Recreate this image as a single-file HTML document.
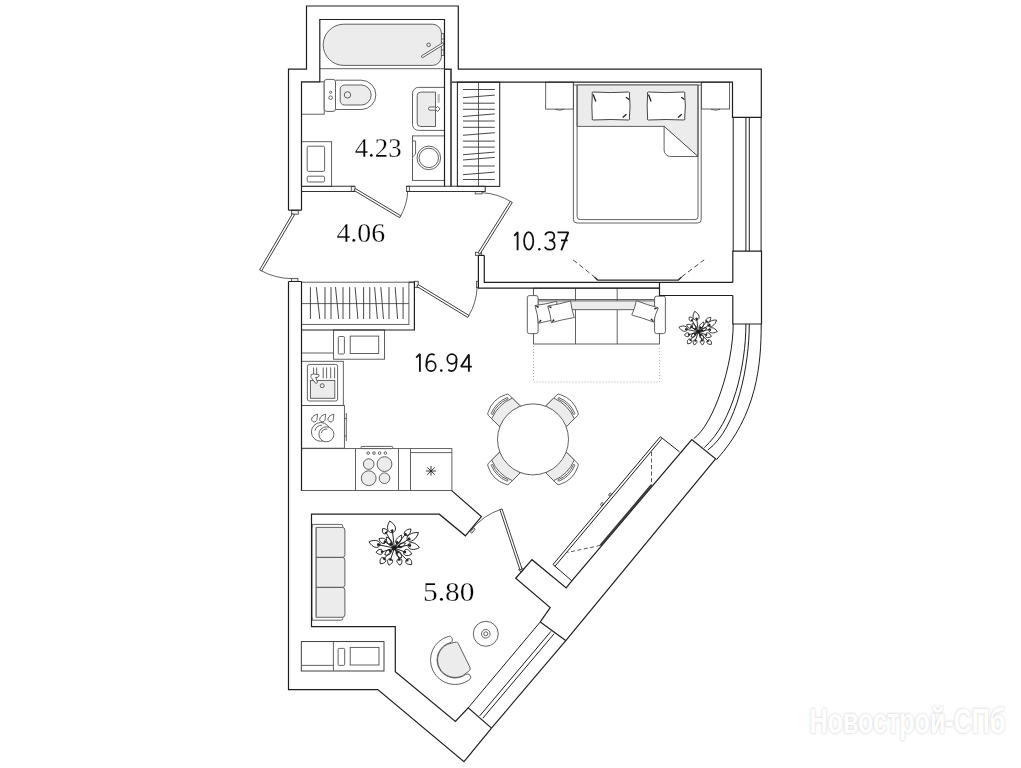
<!DOCTYPE html><html><head><meta charset="utf-8"><style>html,body{margin:0;padding:0;background:#fff;width:1021px;height:768px;overflow:hidden}svg{display:block}</style></head><body>
<svg width="1021" height="768" viewBox="0 0 1021 768">
<defs>
</defs>
<rect width="1021" height="768" fill="#fff"/>
<g stroke="#505050" stroke-width="0.9" fill="none">
<path fill="#ececec" d="M343.8,24.2 H432.4 A9,9 0 0 1 441.4,33.2 V56.4 A9,9 0 0 1 432.4,65.4 H343.8 A20.6,20.6 0 0 1 343.8,24.2 Z"/>
<path d="M319.8,68.7 H444.5"/>
<path d="M441.4,33.5 H443.9 V55.5 H441.4 M441.4,39 H443.9 M441.4,44 H443.9 M441.4,50 H443.9"/>
<path d="M421.3,56 L443,42.6 L444,44.4 L422.3,57.8 Z" fill="#fff"/>
<circle cx="428.6" cy="44.8" r="1.8"/>
<rect x="301.5" y="81.8" width="22.7" height="32.4"/>
<rect x="324.2" y="79.4" width="11.3" height="32" rx="2.5" fill="#fff"/>
<path d="M335.5,80.2 H361.2 A14.65,14.65 0 0 1 361.2,109.5 H335.5"/>
<path fill="#ececec" d="M344.5,85 H361.2 A10,10 0 0 1 361.2,105 H344.5 A4.3,4.3 0 0 1 340.2,100.7 V89.3 A4.3,4.3 0 0 1 344.5,85 Z"/>
<circle cx="347.5" cy="94.9" r="3.2"/>
<circle cx="330.6" cy="92.3" r="1.1"/><circle cx="330.6" cy="97.7" r="1.8"/>
<rect x="301.4" y="141.7" width="30.2" height="44.7"/>
<rect x="307.2" y="146.2" width="17.4" height="25.2" rx="1.5"/>
<rect x="307.2" y="176.2" width="17.4" height="5.8" rx="1.5"/>
<path d="M444.5,87.4 H418.5 A6,6 0 0 0 412.5,93.4 V124.4 A6,6 0 0 0 418.5,130.4 H444.5"/>
<path fill="#ececec" d="M435.5,92.1 H420.7 A3.5,3.5 0 0 0 417.2,95.6 V123 A3.5,3.5 0 0 0 420.7,126.5 H435.5 Z"/>
<rect x="437.5" y="94" width="2.3" height="8.7" fill="#bbb" stroke="none"/>
<rect x="428.5" y="107" width="8" height="3.2" rx="1.6" fill="#fff"/><path fill="#fff" d="M437.6,106.3 L440,108.9 L437.6,111.5 L435,108.9 Z" stroke-linejoin="round"/>
<rect x="412.5" y="135.9" width="32" height="44.5"/>
<circle cx="428.8" cy="157.9" r="11.8"/><circle cx="428.8" cy="157.9" r="9.7"/>
<path d="M413,141 H415.6 V154 L413,156.5"/>
<rect x="457.4" y="82.2" width="42.3" height="104.2" stroke="#2a2a2a" stroke-width="1.1"/>
<path d="M478.5,82.2 V186.4"/>
<path stroke="#333" d="M463,89.5 H494.8 M463,97.7 L494.8,95.10000000000001 M463,103.2 H494.8 M463,109.3 H494.8 M463,116.5 L494.8,113.9 M463,121 H494.8 M463,127.3 H494.8 M463,135.3 L494.8,132.7 M463,141.1 H494.8 M463,147.1 H494.8 M463,154.70000000000002 L494.8,152.1 M463,160.0 L494.8,157.39999999999998 M463,166 H494.8 M463,174.70000000000002 L494.8,172.1 M463,179.5 H494.8 "/>
<rect x="351.3" y="186.3" width="3.7" height="5.2" fill="#eee"/>
<rect x="406.5" y="186.3" width="3.1" height="5.2" fill="#eee"/>
<rect x="475.2" y="191.5" width="6.9" height="2.4" fill="#eee"/>
<rect x="291.4" y="210.2" width="6.9" height="4" fill="#eee"/>
<rect x="291.6" y="278.4" width="6.3" height="3.1" fill="#eee"/>
<rect x="475.5" y="252.3" width="6.1" height="3.1" fill="#eee"/>
<rect x="476.5" y="281.3" width="1.9" height="6.3" fill="#eee"/>
<rect x="414.4" y="281.3" width="3.8" height="6.3" fill="#eee"/>
<rect x="519.5" y="567.6" width="3.5" height="3.8" fill="#ddd" transform="rotate(40 521 569.5)"/>
<path fill="#ddd" d="M470.2,531.8 L473.5,527.8 L475.2,529.2 L471.9,533.2Z"/>
<ellipse cx="601.8" cy="504" rx="1.6" ry="1" transform="rotate(-50 601.8 504)"/><ellipse cx="610" cy="494.5" rx="1.6" ry="1" transform="rotate(-50 610 494.5)"/>
<path fill="#fff" stroke="#2a2a2a" d="M292.51,213.62 L259.61,269.82 L261.59,270.98 L294.49,214.78 Z"/>
<path d="M260.60,270.40 A65.12,65.12 0 0 0 291.60,278.60"/>
<path fill="#fff" stroke="#2a2a2a" d="M354.11,190.49 L399.61,217.69 L400.79,215.71 L355.29,188.51 Z"/>
<path d="M400.20,216.70 A53.01,53.01 0 0 0 407.70,190.80"/>
<path fill="#fff" stroke="#2a2a2a" d="M479.97,254.11 L512.27,202.51 L510.33,201.29 L478.03,252.89 Z"/>
<path d="M511.30,201.90 A60.88,60.88 0 0 0 482.10,192.70"/>
<path fill="#fff" stroke="#2a2a2a" d="M416.90,286.48 L467.70,317.38 L468.90,315.42 L418.10,284.52 Z"/>
<path d="M468.30,316.40 A59.46,59.46 0 0 0 477.10,287.60"/>
<path fill="#fff" stroke="#2a2a2a" d="M522.09,569.14 L502.09,508.94 L499.91,509.66 L519.91,569.86 Z"/>
<path d="M501.00,509.30 A63.44,63.44 0 0 0 471.10,530.30"/>
<rect x="545.7" y="82.2" width="27.7" height="26.9"/><path d="M555,109.3 Q559.5,111 564,109.3"/>
<rect x="701.6" y="82.2" width="28" height="26.8"/><path d="M711,109.3 Q715.5,111 720,109.3"/>
<path d="M573.4,82.2 V219.5 A3.5,3.5 0 0 0 576.9,223 H697.7 A3.5,3.5 0 0 0 701.2,219.5 V82.2"/>
<path d="M573.4,85 H701.2"/>
<path fill="#ececec" d="M577.1,85 H698 V156.5 L664.1,126.4 H577.1 Z"/>
<path d="M577.1,85 V216.6 A3,3 0 0 0 580.1,219.6 H695 A3,3 0 0 0 698,216.6 V85"/>
<path fill="#fff" d="M664.1,126.4 V150 A6.5,6.5 0 0 0 670.6,156.5 H698 Z"/>
<path fill="#fff" stroke="#333" d="M593,92 Q610.85,93.2 628.7,92 Q630.3000000000001,92.3 629.4000000000001,94 Q630.7,106.0 629.4000000000001,118 Q630.3000000000001,119.7 628.7,120 Q610.85,119 593,120 Q591.4,119.7 592.3,118 Q591.4,106.0 592.3,94 Q591.4,92.3 593,92 Z"/>
<path stroke="#222" stroke-width="1.3" d="M593.2,94.6 L595.8,101.6 M625.9000000000001,97.2 L629.2,99.5 M622.7,117.6 L626.5,114.2"/>
<path fill="#fff" stroke="#333" d="M648.3,92 Q666.15,93.2 684.0,92 Q685.6,92.3 684.7,94 Q686.0,106.0 684.7,118 Q685.6,119.7 684.0,120 Q666.15,119 648.3,120 Q646.6999999999999,119.7 647.5999999999999,118 Q646.6999999999999,106.0 647.5999999999999,94 Q646.6999999999999,92.3 648.3,92 Z"/>
<path stroke="#222" stroke-width="1.3" d="M648.5,94.6 L651.0999999999999,101.6 M681.2,97.2 L684.5,99.5 M678.0,117.6 L681.8,114.2"/>
<path stroke="#2a2a2a" stroke-width="1.4" d="M594.5,276.9 L597.6,280.1 H678.3 L681.6,276.9"/>
<path stroke="#333" stroke-dasharray="5,3" d="M573,259.8 L594.5,276.9 M681.6,276.9 L704.2,259.8"/>
<rect x="533.5" y="288.2" width="126" height="55.8" fill="#fff"/>
<path d="M575.5,288.2 V344 M617.2,288.2 V344 M533.5,299.5 H659.5"/>
<rect x="537.9" y="300.9" width="116.9" height="8.8" fill="#ececec"/>
<rect x="527.3" y="295.6" width="10.8" height="38" rx="2" fill="#fff"/>
<rect x="654.6" y="296.2" width="10.8" height="37.4" rx="2" fill="#fff"/>
<path fill="#fff" d="M534.98,305.56 Q545.92,304.17 556.58,301.37 Q557.43,310.37 560.02,319.04 Q549.08,320.43 538.42,323.23 Q537.57,314.23 534.98,305.56 Z"/>
<path fill="#222" stroke="none" d="M534.98,305.56 L538.98,306.58 L538.03,308.34Z"/>
<path fill="#222" stroke="none" d="M538.42,323.23 L540.21,319.52 L541.74,320.80Z"/>
<path fill="#fff" d="M547.69,306.04 Q559.31,304.17 570.63,300.96 Q571.55,309.46 574.31,317.56 Q562.69,319.43 551.37,322.64 Q550.45,314.14 547.69,306.04 Z"/>
<path fill="#222" stroke="none" d="M547.69,306.04 L551.76,306.71 L550.96,308.55Z"/>
<path fill="#222" stroke="none" d="M551.37,322.64 L553.28,318.99 L554.77,320.32Z"/>
<path fill="#fff" d="M636.38,300.71 Q647.13,304.84 658.25,307.82 Q655.06,314.67 653.62,322.09 Q642.87,317.96 631.75,314.98 Q634.94,308.13 636.38,300.71 Z"/>
<path fill="#222" stroke="none" d="M658.25,307.82 L654.65,309.83 L654.13,307.90Z"/>
<path fill="#222" stroke="none" d="M653.62,322.09 L650.33,319.60 L651.89,318.35Z"/>
<path stroke="#999" stroke-width="0.8" stroke-dasharray="1,2" d="M533.5,346 V382 H659.6 V346"/>
<path fill="#fff" d="M499.34,426.39 L488.52,415.57 Q486.97,414.01 488.17,412.11 Q492.48,398.88 505.71,394.57 Q507.61,393.37 509.17,394.92 L519.99,405.74 Z"/>
<path fill="#ececec" d="M499.34,426.39 L491.70,418.75 Q497.93,404.33 512.35,398.10 L519.99,405.74 Z"/>
<path fill="#fff" d="M492.62,414.30 Q497.01,403.41 507.90,399.02 Q508.53,397.96 507.05,397.61 Q495.88,402.28 491.21,413.45 Q491.56,414.93 492.62,414.30 Z"/>
<path fill="#fff" d="M546.01,405.74 L556.83,394.92 Q558.39,393.37 560.29,394.57 Q573.52,398.88 577.83,412.11 Q579.03,414.01 577.48,415.57 L566.66,426.39 Z"/>
<path fill="#ececec" d="M546.01,405.74 L553.65,398.10 Q568.07,404.33 574.30,418.75 L566.66,426.39 Z"/>
<path fill="#fff" d="M558.10,399.02 Q568.99,403.41 573.38,414.30 Q574.44,414.93 574.79,413.45 Q570.12,402.28 558.95,397.61 Q557.47,397.96 558.10,399.02 Z"/>
<path fill="#fff" d="M566.66,452.41 L577.48,463.23 Q579.03,464.79 577.83,466.69 Q573.52,479.92 560.29,484.23 Q558.39,485.43 556.83,483.88 L546.01,473.06 Z"/>
<path fill="#ececec" d="M566.66,452.41 L574.30,460.05 Q568.07,474.47 553.65,480.70 L546.01,473.06 Z"/>
<path fill="#fff" d="M573.38,464.50 Q568.99,475.39 558.10,479.78 Q557.47,480.84 558.95,481.19 Q570.12,476.52 574.79,465.35 Q574.44,463.87 573.38,464.50 Z"/>
<path fill="#fff" d="M519.99,473.06 L509.17,483.88 Q507.61,485.43 505.71,484.23 Q492.48,479.92 488.17,466.69 Q486.97,464.79 488.52,463.23 L499.34,452.41 Z"/>
<path fill="#ececec" d="M519.99,473.06 L512.35,480.70 Q497.93,474.47 491.70,460.05 L499.34,452.41 Z"/>
<path fill="#fff" d="M507.90,479.78 Q497.01,475.39 492.62,464.50 Q491.56,463.87 491.21,465.35 Q495.88,476.52 507.05,481.19 Q508.53,480.84 507.90,479.78 Z"/>
<circle cx="533" cy="439.4" r="35.5" fill="#fff"/>
<rect x="301.5" y="282.2" width="107.4" height="42.2"/>
<path d="M301.5,303.6 H408.9"/>
<path stroke="#333" d="M310.4,287.1 L310.4,319 M316.3,287.1 L319.8,319 M325,287.1 L325,319 M331,287.1 L331,319 M335.5,287.1 L338.7,319 M343,287.1 L343,319 M349.7,287.1 L349.7,319 M355.1,287.1 L357.9,319 M363.6,287.1 L363.6,319 M369.8,287.1 L369.8,319 M374.6,287.1 L377.4,319 M380.8,287.1 L383.5,319 M389,287.1 L389,319 M395.2,287.1 L397.6,319 M403.1,287.1 L403.1,319 "/>
<rect x="333.5" y="330" width="51" height="29.2"/>
<rect x="338.3" y="336.5" width="6.1" height="17.5" rx="1"/>
<rect x="350.2" y="336.1" width="28.5" height="17.4"/>
<path d="M301.5,353 H333.5"/>
<rect x="301.5" y="361.3" width="41.8" height="44.2"/>
<rect x="307.4" y="364.4" width="30.2" height="36.6" rx="2"/>
<rect x="310.4" y="380.4" width="24.4" height="17.9" fill="#ececec"/>
<path d="M313.6,367.4 V378.4 M316.7,367.4 V378.4 M323.2,367.4 V378.4 M326.6,367.4 V378.4 M330.7,367.4 V378.4 M334.6,367.4 V378.4"/>
<circle cx="322.2" cy="385.7" r="2"/>
<path fill="#fff" d="M310.8,376.5 Q310.5,373.8 313.5,374 L318.8,374.6 Q319.9,376 318,377.2 L315.6,377.5 L317.5,382 Q317,384.2 315.3,383 L311.2,377.5 Z"/>
<rect x="301.5" y="405.5" width="42.9" height="42.7"/>
<path d="M346.3,413 V441 M344.4,418.5 H346.3 M344.4,436 H346.3"/>
<path d="M317.6,414.2 C317.3,416.6 317.1,418 317.0,419.2 A2.7,2.7 0 1 1 311.9,418 C312.6,416.4 314.6,414.9 317.6,414.2 Z"/>
<path d="M325.7,414.2 C325.4,416.6 325.2,418 325.1,419.2 A2.7,2.7 0 1 1 320.0,418 C320.7,416.4 322.7,414.9 325.7,414.2 Z"/>
<path d="M333.9,414.2 C333.6,416.6 333.4,418 333.3,419.2 A2.7,2.7 0 1 1 328.2,418 C328.9,416.4 330.9,414.9 333.9,414.2 Z"/>
<circle cx="320.8" cy="431.9" r="9.4"/><circle cx="326.4" cy="434.3" r="7.5" fill="#fff"/>
<path d="M315,430.6 A6.8,6.8 0 0 1 322.1,425.2 M321.4,433 A5.4,5.4 0 0 1 327.3,429.1"/>
<rect x="301.5" y="448.6" width="150.4" height="41.9"/>
<path d="M355.5,448.6 V490.5 M398.5,448.6 V490.5 M410.5,448.6 V490.5 M410.5,452.6 H451.9"/>
<rect x="361" y="446.4" width="31.8" height="2.2" rx="1" fill="#fff"/>
<circle cx="368.2" cy="453.1" r="1.3"/>
<circle cx="374" cy="453.1" r="1.3"/>
<circle cx="379.6" cy="453.1" r="1.3"/>
<circle cx="385.4" cy="453.1" r="1.3"/>
<g fill="#ececec"><circle cx="368.7" cy="464.1" r="5.3"/><circle cx="384.5" cy="464.1" r="7.4"/><circle cx="368.7" cy="478.2" r="7.4"/><circle cx="384.5" cy="478.2" r="5.3"/></g>
<path stroke="#222" d="M425.9,471 H436.1 M431,465.9 V475.6 M427.2,467.4 L434.8,474.6 M434.8,467.4 L427.2,474.6"/>
<path fill="#fff" d="M312,527.4 V524.4 H341 Q342.8,524.4 342.8,526.2 V527.4 M312,617.2 V620.2 H341 Q342.8,620.2 342.8,618.4 V617.2"/>
<path d="M312,524.4 V620.2 M316.2,527.4 V617.2"/>
<path fill="#ececec" d="M316.2,527.4 H342.3 Q344.9,527.4 344.9,530.0 V554.8 Q344.9,557.4 342.3,557.4 H316.2 Z"/>
<path fill="#ececec" d="M316.2,557.4 H342.3 Q344.9,557.4 344.9,560.0 V584.8 Q344.9,587.4 342.3,587.4 H316.2 Z"/>
<path fill="#ececec" d="M316.2,587.4 H342.3 Q344.9,587.4 344.9,590.0 V614.7 Q344.9,617.3 342.3,617.3 H316.2 Z"/>
<circle cx="485.8" cy="633.8" r="12.5"/><circle cx="485.8" cy="633.8" r="4.3"/><circle cx="485.8" cy="633.8" r="2"/>
<path fill="#ececec" d="M454.13,642.37 Q457.00,640.96 458.41,643.83 L469.89,667.16 Q471.30,670.03 468.43,671.45 L462.73,675.70 A17.5,17.5 0 0 1 447.27,644.30 Z"/>
<path fill="#fff" d="M449.98,642.71 A18.0,18.0 0 1 0 465.63,674.53 A3.25,3.25 0 0 1 469.47,679.77 A24.5,24.5 0 1 1 448.16,636.47 A3.25,3.25 0 0 1 449.98,642.71 Z"/>
<rect x="301.3" y="641.6" width="82.7" height="29.4" stroke="#2a2a2a"/>
<path d="M333.4,641.6 V671 M301.3,665.4 H333.4"/>
<rect x="338.1" y="648.4" width="6.6" height="17" rx="1"/>
<rect x="350.2" y="647.4" width="28.8" height="17.6"/>
</g>
<g transform="translate(394.4,548)"><g stroke="#1a1a1a" stroke-width="0.95" fill="none" stroke-linejoin="round"><path d="M-1.80,-15.40 C3.15,-17.26 1.55,-23.58 -4.70,-26.90 C-8.63,-21.02 -7.04,-14.69 -1.80,-15.40Z"/><path fill="#1a1a1a" d="M-1.80,-15.40 L-1.37,-18.20 L-3.50,-17.66Z"/><path d="M0,0 L-1.80,-15.40"/><path d="M-7.90,-14.70 C-5.52,-17.11 -7.67,-19.64 -11.80,-19.30 C-12.81,-15.28 -10.67,-12.75 -7.90,-14.70Z"/><path fill="#1a1a1a" d="M-7.90,-14.70 L-7.92,-16.42 L-9.60,-15.00Z"/><path d="M0,0 L-7.90,-14.70"/><path d="M-8.60,-5.70 C-7.36,-8.86 -11.10,-10.84 -15.40,-9.30 C-14.26,-4.88 -10.52,-2.90 -8.60,-5.70Z"/><path fill="#1a1a1a" d="M-8.60,-5.70 L-9.58,-7.46 L-10.61,-5.52Z"/><path d="M0,0 L-8.60,-5.70"/><path d="M-14.30,-2.90 C-13.61,-7.38 -19.71,-9.14 -25.40,-6.10 C-22.21,-0.50 -16.10,1.26 -14.30,-2.90Z"/><path fill="#1a1a1a" d="M-14.30,-2.90 L-16.44,-4.66 L-17.05,-2.55Z"/><path d="M0,0 L-14.30,-2.90"/><path d="M-11.50,3.60 C-12.19,0.28 -15.93,0.66 -18.30,4.30 C-15.23,7.38 -11.49,6.99 -11.50,3.60Z"/><path fill="#1a1a1a" d="M-11.50,3.60 L-13.11,2.66 L-12.88,4.85Z"/><path d="M0,0 L-11.50,3.60"/><path d="M-9.70,10.00 C-12.93,8.06 -15.29,11.25 -14.00,15.80 C-9.27,15.71 -6.90,12.52 -9.70,10.00Z"/><path fill="#1a1a1a" d="M-9.70,10.00 L-11.53,10.62 L-9.76,11.93Z"/><path d="M0,0 L-9.70,10.00"/><path d="M-3.60,10.70 C-6.94,10.12 -7.93,13.70 -5.40,17.20 C-1.43,15.50 -0.44,11.93 -3.60,10.70Z"/><path fill="#1a1a1a" d="M-3.60,10.70 L-5.06,11.84 L-2.94,12.42Z"/><path d="M0,0 L-3.60,10.70"/><path d="M4.70,10.70 C1.41,11.54 1.96,15.11 5.70,17.20 C8.64,14.09 8.09,10.51 4.70,10.70Z"/><path fill="#1a1a1a" d="M4.70,10.70 L3.83,12.30 L6.01,11.96Z"/><path d="M0,0 L4.70,10.70"/><path d="M12.20,11.50 C9.80,14.40 12.55,17.15 17.20,16.50 C17.85,11.85 15.10,9.10 12.20,11.50Z"/><path fill="#1a1a1a" d="M12.20,11.50 L12.52,13.38 L14.08,11.82Z"/><path d="M0,0 L12.20,11.50"/><path d="M9.30,3.60 C8.45,7.66 12.80,9.03 17.20,6.10 C15.28,1.17 10.94,-0.21 9.30,3.60Z"/><path fill="#1a1a1a" d="M9.30,3.60 L10.71,5.20 L11.37,3.10Z"/><path d="M0,0 L9.30,3.60"/><path d="M13.60,-2.90 C13.21,1.62 19.48,3.00 25.00,-0.40 C21.40,-5.80 15.13,-7.17 13.60,-2.90Z"/><path fill="#1a1a1a" d="M13.60,-2.90 L15.87,-1.28 L16.34,-3.42Z"/><path d="M0,0 L13.60,-2.90"/><path d="M12.90,-7.90 C15.96,-4.54 22.12,-8.66 24.10,-15.40 C17.12,-16.14 10.96,-12.01 12.90,-7.90Z"/><path fill="#1a1a1a" d="M12.90,-7.90 L15.98,-8.64 L14.75,-10.46Z"/><path d="M0,0 L12.90,-7.90"/><path d="M10.40,-12.90 C13.09,-10.82 16.45,-14.17 16.50,-19.00 C11.67,-18.95 8.32,-15.59 10.40,-12.90Z"/><path fill="#1a1a1a" d="M10.40,-12.90 L12.52,-13.46 L10.96,-15.02Z"/><path d="M0,0 L10.40,-12.90"/><path d="M2.10,-4.30 C4.94,-3.20 7.74,-7.93 7.20,-12.90 C2.58,-10.99 -0.23,-6.26 2.10,-4.30Z"/><path fill="#1a1a1a" d="M2.10,-4.30 L4.17,-5.63 L2.28,-6.75Z"/><path d="M0,0 L2.10,-4.30"/><path d="M-3.00,-3.00 C-0.71,-4.99 -3.46,-9.39 -8.00,-11.00 C-8.54,-6.21 -5.79,-1.81 -3.00,-3.00Z"/><path fill="#1a1a1a" d="M-3.00,-3.00 L-3.17,-5.34 L-5.03,-4.18Z"/><path d="M0,0 L-3.00,-3.00"/><path d="M-3.50,2.50 C-5.60,0.32 -8.90,2.80 -9.50,7.00 C-5.30,7.60 -2.00,5.12 -3.50,2.50Z"/><path fill="#1a1a1a" d="M-3.50,2.50 L-5.48,2.61 L-4.16,4.37Z"/><path d="M0,0 L-3.50,2.50"/><path d="M2.50,3.50 C0.26,5.53 2.73,9.11 7.00,10.00 C7.67,5.69 5.19,2.12 2.50,3.50Z"/><path fill="#1a1a1a" d="M2.50,3.50 L2.59,5.56 L4.39,4.30Z"/><path d="M0,0 L2.50,3.50"/><path d="M4.00,-1.00 C5.65,1.08 9.50,-1.12 11.00,-5.00 C6.90,-5.68 3.05,-3.48 4.00,-1.00Z"/><path fill="#1a1a1a" d="M4.00,-1.00 L6.09,-0.92 L4.99,-2.84Z"/><path d="M0,0 L4.00,-1.00"/><circle r="1.8" fill="#1a1a1a"/></g></g>
<g transform="translate(698.3,331.8) scale(0.76)"><g stroke="#1a1a1a" stroke-width="1.15" fill="none" stroke-linejoin="round"><path d="M-1.80,-15.40 C3.15,-17.26 1.55,-23.58 -4.70,-26.90 C-8.63,-21.02 -7.04,-14.69 -1.80,-15.40Z"/><path fill="#1a1a1a" d="M-1.80,-15.40 L-1.37,-18.20 L-3.50,-17.66Z"/><path d="M0,0 L-1.80,-15.40"/><path d="M-7.90,-14.70 C-5.52,-17.11 -7.67,-19.64 -11.80,-19.30 C-12.81,-15.28 -10.67,-12.75 -7.90,-14.70Z"/><path fill="#1a1a1a" d="M-7.90,-14.70 L-7.92,-16.42 L-9.60,-15.00Z"/><path d="M0,0 L-7.90,-14.70"/><path d="M-8.60,-5.70 C-7.36,-8.86 -11.10,-10.84 -15.40,-9.30 C-14.26,-4.88 -10.52,-2.90 -8.60,-5.70Z"/><path fill="#1a1a1a" d="M-8.60,-5.70 L-9.58,-7.46 L-10.61,-5.52Z"/><path d="M0,0 L-8.60,-5.70"/><path d="M-14.30,-2.90 C-13.61,-7.38 -19.71,-9.14 -25.40,-6.10 C-22.21,-0.50 -16.10,1.26 -14.30,-2.90Z"/><path fill="#1a1a1a" d="M-14.30,-2.90 L-16.44,-4.66 L-17.05,-2.55Z"/><path d="M0,0 L-14.30,-2.90"/><path d="M-11.50,3.60 C-12.19,0.28 -15.93,0.66 -18.30,4.30 C-15.23,7.38 -11.49,6.99 -11.50,3.60Z"/><path fill="#1a1a1a" d="M-11.50,3.60 L-13.11,2.66 L-12.88,4.85Z"/><path d="M0,0 L-11.50,3.60"/><path d="M-9.70,10.00 C-12.93,8.06 -15.29,11.25 -14.00,15.80 C-9.27,15.71 -6.90,12.52 -9.70,10.00Z"/><path fill="#1a1a1a" d="M-9.70,10.00 L-11.53,10.62 L-9.76,11.93Z"/><path d="M0,0 L-9.70,10.00"/><path d="M-3.60,10.70 C-6.94,10.12 -7.93,13.70 -5.40,17.20 C-1.43,15.50 -0.44,11.93 -3.60,10.70Z"/><path fill="#1a1a1a" d="M-3.60,10.70 L-5.06,11.84 L-2.94,12.42Z"/><path d="M0,0 L-3.60,10.70"/><path d="M4.70,10.70 C1.41,11.54 1.96,15.11 5.70,17.20 C8.64,14.09 8.09,10.51 4.70,10.70Z"/><path fill="#1a1a1a" d="M4.70,10.70 L3.83,12.30 L6.01,11.96Z"/><path d="M0,0 L4.70,10.70"/><path d="M12.20,11.50 C9.80,14.40 12.55,17.15 17.20,16.50 C17.85,11.85 15.10,9.10 12.20,11.50Z"/><path fill="#1a1a1a" d="M12.20,11.50 L12.52,13.38 L14.08,11.82Z"/><path d="M0,0 L12.20,11.50"/><path d="M9.30,3.60 C8.45,7.66 12.80,9.03 17.20,6.10 C15.28,1.17 10.94,-0.21 9.30,3.60Z"/><path fill="#1a1a1a" d="M9.30,3.60 L10.71,5.20 L11.37,3.10Z"/><path d="M0,0 L9.30,3.60"/><path d="M13.60,-2.90 C13.21,1.62 19.48,3.00 25.00,-0.40 C21.40,-5.80 15.13,-7.17 13.60,-2.90Z"/><path fill="#1a1a1a" d="M13.60,-2.90 L15.87,-1.28 L16.34,-3.42Z"/><path d="M0,0 L13.60,-2.90"/><path d="M12.90,-7.90 C15.96,-4.54 22.12,-8.66 24.10,-15.40 C17.12,-16.14 10.96,-12.01 12.90,-7.90Z"/><path fill="#1a1a1a" d="M12.90,-7.90 L15.98,-8.64 L14.75,-10.46Z"/><path d="M0,0 L12.90,-7.90"/><path d="M10.40,-12.90 C13.09,-10.82 16.45,-14.17 16.50,-19.00 C11.67,-18.95 8.32,-15.59 10.40,-12.90Z"/><path fill="#1a1a1a" d="M10.40,-12.90 L12.52,-13.46 L10.96,-15.02Z"/><path d="M0,0 L10.40,-12.90"/><path d="M2.10,-4.30 C4.94,-3.20 7.74,-7.93 7.20,-12.90 C2.58,-10.99 -0.23,-6.26 2.10,-4.30Z"/><path fill="#1a1a1a" d="M2.10,-4.30 L4.17,-5.63 L2.28,-6.75Z"/><path d="M0,0 L2.10,-4.30"/><path d="M-3.00,-3.00 C-0.71,-4.99 -3.46,-9.39 -8.00,-11.00 C-8.54,-6.21 -5.79,-1.81 -3.00,-3.00Z"/><path fill="#1a1a1a" d="M-3.00,-3.00 L-3.17,-5.34 L-5.03,-4.18Z"/><path d="M0,0 L-3.00,-3.00"/><path d="M-3.50,2.50 C-5.60,0.32 -8.90,2.80 -9.50,7.00 C-5.30,7.60 -2.00,5.12 -3.50,2.50Z"/><path fill="#1a1a1a" d="M-3.50,2.50 L-5.48,2.61 L-4.16,4.37Z"/><path d="M0,0 L-3.50,2.50"/><path d="M2.50,3.50 C0.26,5.53 2.73,9.11 7.00,10.00 C7.67,5.69 5.19,2.12 2.50,3.50Z"/><path fill="#1a1a1a" d="M2.50,3.50 L2.59,5.56 L4.39,4.30Z"/><path d="M0,0 L2.50,3.50"/><path d="M4.00,-1.00 C5.65,1.08 9.50,-1.12 11.00,-5.00 C6.90,-5.68 3.05,-3.48 4.00,-1.00Z"/><path fill="#1a1a1a" d="M4.00,-1.00 L6.09,-0.92 L4.99,-2.84Z"/><path d="M0,0 L4.00,-1.00"/><circle r="1.8" fill="#1a1a1a"/></g></g>
<g stroke="#1e1e1e" stroke-width="1.2" fill="none">
<path d="M288.5,210.2 V69.2 H306.5 V6 H458.3 V69.2 H761.3 V117.4 H732.5 V82.2 H451.4"/>
<path d="M301.5,210.2 V82 H319.8 V19.5 H444.5 V186.4"/>
<path d="M288.5,210.2 H301.5"/>
<path d="M444.5,69.2 H451 V186.4" stroke-width="1.6" stroke="#333"/>
<path stroke="#333" stroke-width="1.05" d="M301.5,186.3 H355 M301.5,191.5 H355"/>
<path stroke="#333" stroke-width="1.05" d="M406.5,186.3 H485.2 V191.5 H406.5"/>
<path stroke-width="1" d="M733.2,117.4 V251.1 M745.9,117.4 V251.1 M749.3,117.4 V251.1 M761.1,117.4 V251.1"/>
<path d="M732.8,282.4 V251.1 H761.5 V324 H732.8 V295.5"/>
<path d="M484.3,255.4 V282.4 H732.8"/>
<path d="M478.4,255.4 V288.2 H659.5 M659.5,282.4 V295.5 H732.8"/>
<path d="M478.4,255.4 H484.3"/>
<path d="M288.5,281.5 H301.5 M288.5,281.5 V689.6 H377.8 L464,761.6 L491.5,728.1"/>
<path d="M301.5,281.5 V490.5"/>
<path d="M408.9,282.2 H414.4 V330 H301.5"/>
<path d="M451.7,490.6 L481.4,516.6 L465.4,535.8 L439.3,514.2 H311.5 V626.6 H395.3 V671.7 L455.4,721.4 L468.2,707.8 L491.5,728.1"/>
<path d="M540.3,621.9 L550.2,607.5 L515.7,578.3 L532,559.7 L566.2,587.9 L571.8,580.8 L691.8,439.6 L715.6,458.8 L566.2,640.1 L491.5,728.1"/>
<path d="M540.3,621.9 L566,640.7"/>
<path stroke-width="1" d="M468.2,707.8 L540.3,621.9 M479.7,715.9 L551,631.3 M482.8,718.2 L554.1,633.8"/>
<path stroke-width="1" d="M733.2,324 C733.2,364.7 713.9,424.2 693.7,438.6 M745.9,324 C745.9,365.5 733.2,421.7 704.3,447.6 M749.3,324 C749.3,364.8 737.3,428.3 707.8,450 M761.2,324 C761.2,364.6 757,415 716.4,459.8"/>
<path stroke-width="1" d="M553,564.5 L571.8,580.8 M660.3,436.7 L679.5,451.8 M553,564.5 L660.3,436.7 M555,566.2 L662.1,438.3"/>
<path stroke="#444" stroke-width="0.9" stroke-dasharray="4,2.5" d="M651.5,452 V485 M600.4,545.4 L567.5,552.4"/>
<path stroke="#3a3a3a" stroke-width="2" d="M651.5,485 L600.4,545.4"/>
</g>
<defs><filter id="gs"><feOffset/></filter></defs><g filter="url(#gs)">
<text transform="matrix(0.9780,0,0,1,354.66,157.49)" font-family="Liberation Serif" font-size="27.41" fill="#000" stroke="#fff" stroke-width="0.28">4.23</text>
<text transform="matrix(0.9906,0,0,1,336.44,241.68)" font-family="Liberation Serif" font-size="28.09" fill="#000" stroke="#fff" stroke-width="0.28">4.06</text>
<text transform="matrix(1.0465,0,0,1,422.94,601.38)" font-family="Liberation Serif" font-size="28.09" fill="#000" stroke="#fff" stroke-width="0.28">5.80</text>
<g stroke="#111" stroke-width="1.85" fill="none" stroke-linejoin="miter" stroke-miterlimit="1.6">
<path d="M514.2,235.8 L517.6,232.1 V250.2"/>
<ellipse cx="528.7" cy="240.9" rx="4.6" ry="8.7" stroke-width="1.75"/>
<path stroke-width="1.7" d="M545.2,235.2 C545.8,233.1 547.5,232.2 549.7,232.2 C552.4,232.2 554.3,233.8 554.3,236.2 C554.3,238.8 552.4,240.4 549,240.4 C552.6,240.4 554.7,242.3 554.7,245.2 C554.7,248.1 552.5,249.7 549.6,249.7 C547.2,249.7 545.5,248.7 544.9,246.8"/>
<path d="M557.4,232.3 H568.3 L561.3,250.3 M561,240.4 H567.7"/>
<circle cx="539.3" cy="249.3" r="1.25" fill="#111" stroke="none"/>
<path d="M416.2,357.6 L419.9,353.9 V371.8"/>
<ellipse cx="431.05" cy="366.15" rx="4.65" ry="4.95" stroke-width="1.7"/>
<path stroke-width="1.7" d="M434.6,355.3 C433.8,354.4 432.7,354.1 431.6,354.1 C428.2,354.1 426.4,357.6 426.4,364.6 L426.45,366.3"/>
<ellipse cx="451.9" cy="358.95" rx="4.65" ry="4.9" stroke-width="1.7"/>
<path stroke-width="1.7" d="M456.55,358.5 L456.55,362 C456.5,368.2 454.8,371.1 451.5,371.1 C450.2,371.1 449.1,370.6 448.3,369.6"/>
<path d="M468.9,371.8 V354.6 L461,366.6 H471.9"/>
<circle cx="441.3" cy="370.6" r="1.3" fill="#111" stroke="none"/>
</g>
</g>
<defs><filter id="wmb" x="-10%" y="-30%" width="120%" height="160%"><feGaussianBlur stdDeviation="1.3"/></filter></defs>
<g transform="matrix(0.83,0,0,1,809.5,733.3)"><g fill="#d8d8d8" stroke="#d8d8d8" stroke-width="1" filter="url(#wmb)"><text x="0" y="0" font-family="Liberation Sans" font-weight="bold" font-size="35" textLength="236" lengthAdjust="spacingAndGlyphs">Новострой-СПб</text></g><g fill="#fff"><text x="0" y="0" font-family="Liberation Sans" font-weight="bold" font-size="35" textLength="236" lengthAdjust="spacingAndGlyphs">Новострой-СПб</text></g></g>
</svg></body></html>
